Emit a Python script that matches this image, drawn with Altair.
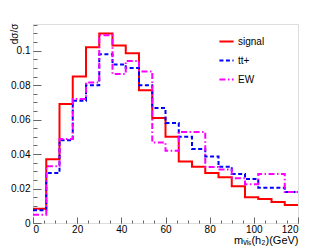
import altair as alt
import pandas as pd

# bin edges (GeV), 6 GeV bins
bin_edges = [0, 6, 12, 18, 24, 30, 36, 42, 48, 54, 60, 66, 72, 78, 84, 90, 96, 102, 108, 114, 120]

signal = [0.0083, 0.037, 0.069, 0.085, 0.102, 0.110, 0.103, 0.0985, 0.077, 0.061,
          0.050, 0.0357, 0.0326, 0.029, 0.0265, 0.0213, 0.015, 0.014, 0.0122, 0.0105]
ttbar = [0.0074, 0.029, 0.048, 0.071, 0.080, 0.098, 0.092, 0.090, 0.080, 0.0667,
         0.058, 0.050, 0.043, 0.0386, 0.0326, 0.0285, 0.0255, 0.0205, 0.0205, 0.018]
ew = [0.0048, 0.033, 0.0487, 0.072, 0.0816, 0.109, 0.0865, 0.094, 0.088, 0.0467,
      0.042, 0.0528, 0.0528, 0.0325, 0.031, 0.026, 0.0225, 0.0285, 0.0285, 0.018]

series_names = ["signal", "tt+", "EW"]
colors = ["#ff0000", "#0000ff", "#ff00ff"]
dashes = [[1, 0], [4, 2.5], [6, 2.5, 1.5, 2.5]]

x_major = [0, 20, 40, 60, 80, 100, 120]
x_minor = [0, 5, 10, 15, 20, 25, 30, 35, 40, 45, 50, 55, 60, 65, 70, 75, 80, 85,
           90, 95, 100, 105, 110, 115, 120]
y_major = [0, 0.02, 0.04, 0.06, 0.08, 0.1]
y_minor = [0.005, 0.01, 0.015, 0.02, 0.025, 0.03, 0.035, 0.04, 0.045, 0.05, 0.055,
           0.06, 0.065, 0.07, 0.075, 0.08, 0.085, 0.09, 0.095, 0.1, 0.105, 0.11, 0.115]

W, H = 265, 199
FONT = "Liberation Sans"
AX = "#666666"

rows = []
for name, vals in zip(series_names, [signal, ttbar, ew]):
    for i, v in enumerate(vals):
        rows.append({"x": bin_edges[i], "y": v, "series": name})
    rows.append({"x": bin_edges[-1], "y": vals[-1], "series": name})
df = pd.DataFrame(rows)

xscale = alt.Scale(domain=[0, 120], nice=False, zero=False)
yscale = alt.Scale(domain=[0, 0.1155], nice=False, zero=False)

leg = alt.Legend(title=None, orient="none", legendX=185, legendY=9,
                 symbolType="stroke", symbolSize=200, symbolStrokeWidth=2,
                 labelFontSize=10, labelFont=FONT, labelColor="#000",
                 rowPadding=5, padding=0, labelOffset=3)

lines = alt.Chart(df).mark_line(interpolate="step-after", strokeWidth=2, clip=True).encode(
    x=alt.X("x:Q", scale=xscale,
            axis=alt.Axis(orient="bottom", values=x_major, ticks=False, tickSize=0,
                          labelPadding=1, domain=False, grid=False, format="d",
                          labelFont=FONT, labelFontSize=10, labelColor="#000",
                          title="mᵥᵢₛ(h₂)(GeV)", titleFont=FONT, titleFontSize=11,
                          titleFontWeight="normal", titleColor="#000",
                          titleX=W, titleY=20, titleAlign="right",
                          titleBaseline="alphabetic")),
    y=alt.Y("y:Q", scale=yscale,
            axis=alt.Axis(orient="left", values=y_major, ticks=False, tickSize=0,
                          labelPadding=3, domain=False, grid=False, format="~g",
                          labelFont=FONT, labelFontSize=10, labelColor="#000",
                          title="dσ/σ", titleFont=FONT, titleFontSize=10,
                          titleFontWeight="normal", titleColor="#000",
                          titleX=-19, titleY=-1, titleAngle=270,
                          titleAlign="right", titleBaseline="middle")),
    color=alt.Color("series:N", scale=alt.Scale(domain=series_names, range=colors), legend=leg),
    strokeDash=alt.StrokeDash("series:N", scale=alt.Scale(domain=series_names, range=dashes), legend=leg),
)


def y_ticks(vals, size):
    return alt.Chart(pd.DataFrame({"v": vals})).mark_point(opacity=0).encode(
        y=alt.Y("v:Q", scale=yscale,
                axis=alt.Axis(orient="right", offset=-W, values=vals, labels=False,
                              domain=False, grid=False, ticks=True, tickSize=size,
                              tickColor=AX, tickWidth=1, title=None)))


def x_ticks(vals, size):
    return alt.Chart(pd.DataFrame({"v": vals})).mark_point(opacity=0).encode(
        x=alt.X("v:Q", scale=xscale,
                axis=alt.Axis(orient="top", offset=-H, values=vals, labels=False,
                              domain=False, grid=False, ticks=True, tickSize=size,
                              tickColor=AX, tickWidth=1, title=None)))


chart = alt.layer(
    lines,
    y_ticks(y_major, 8),
    y_ticks(y_minor, 4),
    x_ticks(x_major, 6),
    x_ticks(x_minor, 3),
).resolve_axis(x="independent", y="independent").properties(
    width=W, height=H,
    autosize=alt.AutoSizeParams(type="none"),
    padding={"left": 25, "top": 16, "right": 26, "bottom": 25},
).configure_view(stroke="#808080", strokeWidth=1.5).configure(background="white")

chart.save("out.html", embed_options={"renderer": "svg", "actions": False})
